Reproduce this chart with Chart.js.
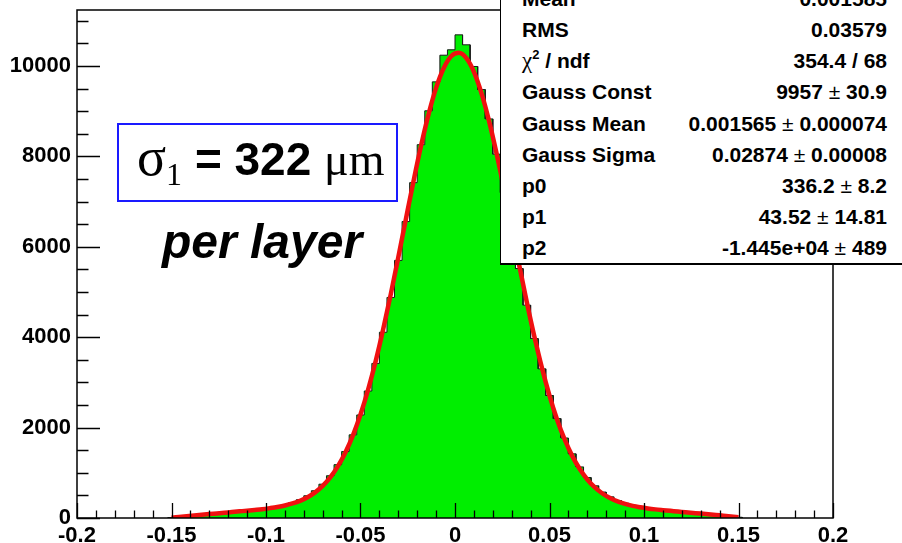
<!DOCTYPE html>
<html>
<head>
<meta charset="utf-8">
<script src="https://cdn.jsdelivr.net/npm/chart.js@4"></script>
<style>
  html, body { margin: 0; padding: 0; background: #fff; }
  #wrap { position: relative; width: 902px; height: 543px; overflow: hidden; background: #fff; }
  #wrap canvas { position: absolute; left: 0; top: 0; }
  .stats {
    position: absolute; left: 500px; top: -40px; width: 440px; height: 305px;
    background: #fff; border: 1px solid #000; border-bottom-width: 2px; box-sizing: border-box;
    font: bold 21px "Liberation Sans", Arial, sans-serif; color: #000;
  }
  .stats .rows { position: absolute; left: 21px; top: 21.8px; width: 365px; }
  .stats .row { display: flex; justify-content: space-between; height: 31.2px; line-height: 31.2px; white-space: nowrap; }
  .stats .pm { font-weight: normal; }
  .stats .chi { font-family: "Liberation Serif", serif; font-weight: normal; font-size: 23px; }
  .stats sup { font-size: 13px; line-height: 0; position: relative; top: -1px; }
  .sig {
    position: absolute; left: 117px; top: 123px; width: 281px; height: 79px; box-sizing: border-box;
    border: 2px solid #1a1aff; background: #fff; white-space: nowrap;
  }
  .sig .txt { position: absolute; left: 18px; top: 1px; line-height: 60px; }
  .sig .g { font: 54px "Liberation Serif", "Times New Roman", serif; color: #000; }
  .sig .g.mu { font-size: 46px; }
  .sig .g sub { font-size: 32px; vertical-align: -10px; line-height: 0; }
  .sig .b { font: bold 46px "Liberation Sans", Arial, sans-serif; color: #000; }
  .layer {
    position: absolute; left: 162px; top: 214px; line-height: 48px;
    font: italic bold 48px "Liberation Sans", Arial, sans-serif; color: #000; white-space: nowrap;
  }
</style>
</head>
<body>
<div id="wrap">
  <canvas id="c" width="902" height="543"></canvas>
  <div class="sig"><div class="txt"><span class="g">σ<sub>1</sub></span><span class="b"> = 322 </span><span class="g mu">μm</span></div></div>
  <div class="layer">per layer</div>
  <div class="stats"><div class="rows" id="rows"></div></div>
</div>
<script>
// Residual histogram: bin centres (width 0.004) and entries per bin
const binCenters = [
  -0.150,-0.146,-0.142,-0.138,-0.134,-0.130,-0.126,-0.122,-0.118,-0.114,
  -0.110,-0.106,-0.102,-0.098,-0.094,-0.090,-0.086,-0.082,-0.078,-0.074,
  -0.070,-0.066,-0.062,-0.058,-0.054,-0.050,-0.046,-0.042,-0.038,-0.034,
  -0.030,-0.026,-0.022,-0.018,-0.014,-0.010,-0.006,-0.002,
   0.002, 0.006, 0.010, 0.014, 0.018, 0.022, 0.026, 0.030, 0.034, 0.038,
   0.042, 0.046, 0.050, 0.054, 0.058, 0.062, 0.066, 0.070, 0.074, 0.078,
   0.082, 0.086, 0.090, 0.094, 0.098, 0.102, 0.106, 0.110, 0.114, 0.118,
   0.122, 0.126, 0.130, 0.134, 0.138, 0.142, 0.146, 0.150
];
const binCounts = [
  8,20,42,52,74,85,104,113,136,150,
  158,183,199,224,252,290,340,405,492,603,
  748,935,1180,1470,1840,2280,2810,3420,4110,4880,
  5700,6560,7420,8260,9010,9650,10240,10360,
  10690,10470,9990,9480,8830,8050,7200,6350,5520,4710,
  3970,3300,2710,2200,1770,1420,1130,895,712,574,
  468,386,326,280,246,216,194,171,160,140,
  129,110,101,80,69,49,37,16
];
// Gauss + pol2 fit evaluated at the bin centres
const fitValues = [
  5,22,39,55,71,87,101,116,132,147,
  162,178,195,218,244,277,322,380,461,568,
  710,898,1141,1448,1828,2289,2835,3465,4174,4948,
  5769,6611,7442,8229,8932,9517,9953,10217,
  10292,10175,9872,9401,8787,8063,7265,6428,5588,4775,
  4014,3321,2709,2181,1738,1375,1083,853,676,542,
  441,366,311,269,238,212,191,174,158,143,
  126,112,98,83,67,51,35,18
];

const xTickValues = [-0.2, -0.15, -0.1, -0.05, 0, 0.05, 0.1, 0.15, 0.2];
const xTickLabels = ['-0.2','-0.15','-0.1','-0.05','0','0.05','0.1','0.15','0.2'];
const yTickValues = [0, 2000, 4000, 6000, 8000, 10000];
const yTickLabels = ['0','2000','4000','6000','8000','10000'];

const statNames  = ['Mean','RMS','χ2 / ndf','Gauss Const','Gauss Mean','Gauss Sigma','p0','p1','p2'];
const statValues = ['0.001585','0.03579','354.4 / 68','9957 ± 30.9','0.001565 ± 0.000074',
                    '0.02874 ± 0.00008','336.2 ± 8.2','43.52 ± 14.81','-1.445e+04 ± 489'];

// statistics box rows
const rowsEl = document.getElementById('rows');
statNames.forEach((name, i) => {
  const row = document.createElement('div');
  row.className = 'row';
  const l = document.createElement('span');
  if (name.startsWith('χ2')) {
    l.innerHTML = '<span class="chi">χ</span><sup>2</sup> / ndf';
  } else {
    l.textContent = name;
  }
  const r = document.createElement('span');
  r.innerHTML = statValues[i].replace('±', '<span class="pm">±</span>');
  row.appendChild(l); row.appendChild(r);
  rowsEl.appendChild(row);
});

// step outline of the histogram, built from the bins
const half = (binCenters[1] - binCenters[0]) / 2;
const histPoints = [{ x: binCenters[0] - half, y: 0 }];
binCenters.forEach((c, i) => {
  histPoints.push({ x: c - half, y: binCounts[i] });
  histPoints.push({ x: c + half, y: binCounts[i] });
});
histPoints.push({ x: binCenters[binCenters.length - 1] + half, y: 0 });
const fitPoints = binCenters.map((c, i) => ({ x: c, y: fitValues[i] }));

const X_MIN = -0.2, X_MAX = 0.2, Y_MAX = 11240;

// frame with inward major/minor ticks
const frameTicks = {
  id: 'frameTicks',
  afterDatasetsDraw(chart) {
    const { ctx, chartArea: a, scales: { x, y } } = chart;
    ctx.save();
    ctx.strokeStyle = '#000';
    ctx.lineWidth = 1.3;
    ctx.beginPath();
    for (let i = 0; i <= 40; i++) {
      const px = Math.round(x.getPixelForValue(X_MIN + i * 0.01)) + 0.5;
      const len = i % 5 === 0 ? 15 : 7.5;
      ctx.moveTo(px, a.bottom);
      ctx.lineTo(px, a.bottom - len);
    }
    for (let v = 0; v <= Y_MAX; v += 500) {
      const py = Math.round(y.getPixelForValue(v)) + 0.5;
      const len = v % 2000 === 0 ? 23 : 11.5;
      ctx.moveTo(a.left, py);
      ctx.lineTo(a.left + len, py);
    }
    ctx.stroke();
    ctx.lineWidth = 1.5;
    ctx.strokeRect(a.left, a.top, a.right - a.left, a.bottom - a.top);
    ctx.restore();
  }
};

const tickFont = { family: '"Liberation Sans", Arial, sans-serif', size: 22, weight: 'bold' };

new Chart(document.getElementById('c'), {
  type: 'line',
  data: {
    datasets: [
      {
        data: fitPoints,
        order: 0,
        borderColor: '#f01010',
        borderWidth: 4.5,
        pointRadius: 0,
        fill: false,
        cubicInterpolationMode: 'monotone'
      },
      {
        data: histPoints,
        order: 1,
        borderColor: '#1a1a1a',
        borderWidth: 1,
        backgroundColor: '#00ee00',
        pointRadius: 0,
        fill: 'origin',
        tension: 0
      }
    ]
  },
  options: {
    responsive: false,
    animation: false,
    events: [],
    layout: { padding: { top: 10, right: 69, left: 0, bottom: 0 } },
    plugins: { legend: { display: false }, tooltip: { enabled: false } },
    scales: {
      x: {
        type: 'linear',
        min: X_MIN, max: X_MAX,
        bounds: 'data',
        grid: { display: false },
        border: { display: false },
        afterBuildTicks(s) { s.ticks = xTickValues.map(v => ({ value: v })); },
        afterFit(s) { s.height = 25; s.paddingLeft = 0; s.paddingRight = 0; },
        ticks: {
          autoSkip: false,
          maxRotation: 0,
          padding: -3,
          color: '#000',
          font: tickFont,
          callback: (v, i) => xTickLabels[i]
        }
      },
      y: {
        min: 0, max: Y_MAX,
        bounds: 'data',
        grid: { display: false },
        border: { display: false },
        afterBuildTicks(s) { s.ticks = yTickValues.map(v => ({ value: v })); },
        afterFit(s) { s.width = 77; s.paddingTop = 0; s.paddingBottom = 0; },
        ticks: {
          autoSkip: false,
          padding: -2,
          color: '#000',
          font: tickFont,
          callback: (v, i) => yTickLabels[i]
        }
      }
    }
  },
  plugins: [frameTicks]
});
</script>
</body>
</html>
